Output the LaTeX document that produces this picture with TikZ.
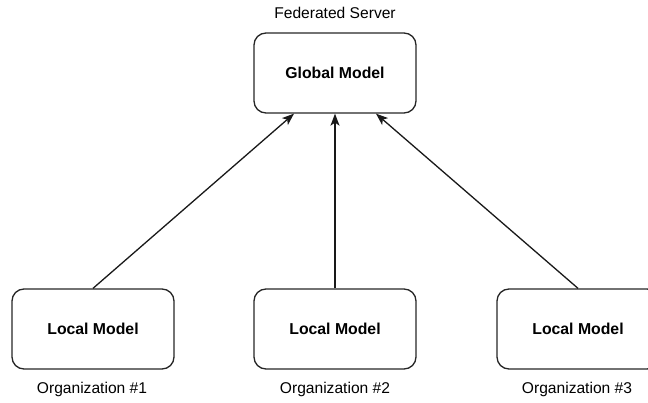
\documentclass[tikz,border=0pt]{standalone}
\usepackage{fontspec}
\setmainfont{Liberation Sans}
\usetikzlibrary{arrows.meta,calc}
\begin{document}
\begin{tikzpicture}[x=1pt,y=-1pt,
  modelbox/.style={draw=black!85,line width=1.3pt,rounded corners=12pt,minimum width=162pt,minimum height=80pt,inner sep=0pt,font=\fontsize{15.8}{18}\selectfont\bfseries},
  caption/.style={inner sep=0pt,font=\fontsize{15.6}{18}\selectfont},
  link/.style={line width=1.3pt,draw=black!90,-{Stealth[length=12pt,width=9pt,inset=3pt]}}]
\useasboundingbox (0,0) rectangle (648,403);
\node[modelbox] (g) at (335,73) {Global Model};
\node[caption] (fs) at (335,13) {Federated Server};
\node[modelbox] (l1) at (93,329) {Local Model};
\node[modelbox] (l2) at (335,329) {Local Model};
\node[modelbox] (l3) at (578,329) {Local Model};
\node[caption] (o1) at (92,389) {Organization \#1};
\node[caption] (o2) at (335,389) {Organization \#2};
\node[caption] (o3) at (577,389) {Organization \#3};
\draw[link] (l1.north) -- ($(g.south)+(-41,0)$);
\draw[link] (l2.north) -- (g.south);
\draw[link] (l3.north) -- ($(g.south)+(41,0)$);
\end{tikzpicture}
\end{document}
